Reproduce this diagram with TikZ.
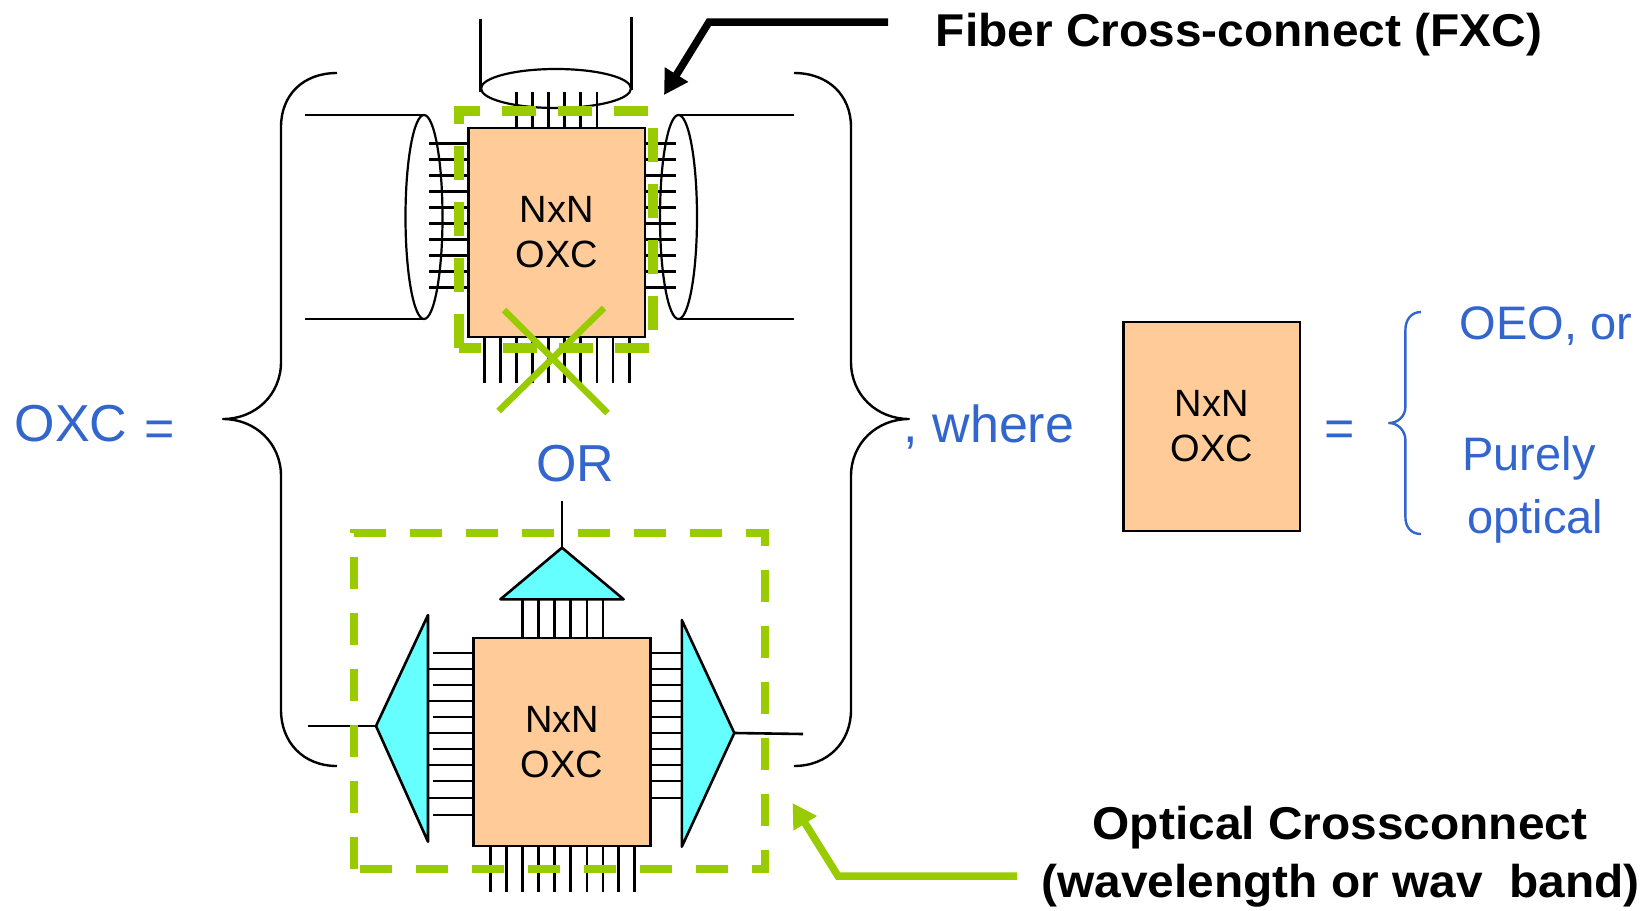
\documentclass[tikz,border=0pt]{standalone}
\usepackage{fontspec}
\setmainfont{Liberation Sans}
\newfontfamily\calloutfont[FakeStretch=1.04]{Liberation Sans}
\usetikzlibrary{shapes,arrows.meta}
\usetikzlibrary{positioning}
\definecolor{oxcfill}{HTML}{FFCC99}
\definecolor{muxfill}{HTML}{66FFFF}
\definecolor{markgreen}{HTML}{99CC00}
\definecolor{textblue}{HTML}{3366CC}
\tikzset{
    oxcbox/.style={rectangle,draw,line width=2.6,fill=oxcfill,align=center,inner sep=0,outer sep=0,
        font=\fontsize{38}{45}\selectfont},
    fiberend/.style={ellipse,draw,line width=2.2,inner sep=0,outer sep=0},
    wire/.style={line width=2.6},
    muxshape/.style={line width=2.6,fill=muxfill,line join=round},
    bracket/.style={line width=2.4,line join=round},
    bluetext/.style={text=textblue,anchor=base,inner sep=0,font=\fontsize{52}{60}\selectfont},
    smalltext/.style={bluetext,font=\fontsize{47}{55}\selectfont},
    boldtext/.style={anchor=base,inner sep=0,font=\calloutfont\bfseries\fontsize{46}{54}\selectfont},
    callout/.style={line width=7.5,-{Triangle[length=24,width=26]}},
}
\begin{document}
\begin{tikzpicture}[x=1pt,y=-1pt]
    \useasboundingbox (0,0) rectangle (1643,910);

    % upper switch with its fibers
    \draw[wire] (480.7,19) -- (480.7,92);
    \draw[wire] (631.4,17) -- (631.4,90);
    \node at (556,88.5) [fiberend,minimum width=150,minimum height=39] (fiberTop) {};
    \node at (424,217) [fiberend,minimum width=37,minimum height=204] (fiberLeft) {};
    \node at (678.5,217) [fiberend,minimum width=37,minimum height=204] (fiberRight) {};
    \node at (556.8,232.5) [oxcbox,minimum width=176.4,minimum height=209] (oxcTop) {NxN\\OXC};

    \coordinate (leftFreeA) at (305,115);
    \coordinate (leftFreeB) at (305,319);
    \coordinate (rightFreeA) at (794,115);
    \coordinate (rightFreeB) at (794,319);
    \draw[wire] (leftFreeA) -- (fiberLeft.north);
    \draw[wire] (leftFreeB) -- (fiberLeft.south);
    \draw[wire] (rightFreeA) -- (fiberRight.north);
    \draw[wire] (rightFreeB) -- (fiberRight.south);

    \foreach \y in {143.3,159.3,175.3,191.3,207.3,223.3,239.3,255.3,271.3,287.3} {
        \draw[wire] (429,\y) -- (oxcTop.west |- 429,\y);
        \draw[wire] (oxcTop.east |- 676,\y) -- (676,\y);
    }
    \foreach \x in {516.4,532.5,548.6,564.6,580.7,596.8}
        \draw[wire] (\x,92) -- (oxcTop.north -| \x,92);
    \foreach \x in {484.3,500.4,516.4,532.5,548.6,564.6,580.7,596.8,612.9,629.3}
        \draw[wire] (oxcTop.south -| \x,383) -- (\x,383);

    \draw[markgreen,line width=10.5,dash pattern=on 34 off 22] (459,348) -- (459,111) -- (653,111) -- (653,348) -- cycle;
    \draw[markgreen,line width=6.5] (504,310) -- (607.5,413);
    \draw[markgreen,line width=6.5] (604,308) -- (498.6,411);

    % lower switch
    \node at (562,742) [oxcbox,minimum width=176.8,minimum height=208] (oxcLow) {NxN\\OXC};

    \coordinate (muxLeftTip) at (376,726);
    \coordinate (muxRightTip) at (734.3,733);
    \coordinate (muxTopTip) at (562,547.7);
    \coordinate (lowLeftFree) at (307.5,726);
    \coordinate (lowRightFree) at (803,734);
    \coordinate (lowTopFree) at (562,501);
    \draw[muxshape] (muxLeftTip) -- (428,615) -- (428,841.7) -- cycle;
    \draw[muxshape] (muxRightTip) -- (681.8,620) -- (681.8,846.7) -- cycle;
    \draw[muxshape] (muxTopTip) -- (500.4,599.3) -- (623.6,599.3) -- cycle;
    \draw[wire] (lowLeftFree) -- (muxLeftTip);
    \draw[wire] (muxRightTip) -- (lowRightFree);
    \draw[wire] (lowTopFree) -- (muxTopTip);

    \foreach \y in {669,701,733,765,798}
        \draw[wire] (429,\y) -- (oxcLow.west |- 429,\y);
    \foreach \y in {653,685,717,749,781,815}
        \draw[wire] (433,\y) -- (oxcLow.west |- 433,\y);
    \foreach \y in {653,669,685,701,717,733,749,765,781,798}
        \draw[wire] (oxcLow.east |- 681.8,\y) -- (681.8,\y);
    \foreach \x in {522.5,538.5,554.6,570.7,586.8,602.9}
        \draw[wire] (\x,599.3) -- (oxcLow.north -| \x,599.3);
    \foreach \x in {490.4,506.4,522.5,538.5,554.6,570.7,586.8,602.9,618.6,634.6}
        \draw[wire] (oxcLow.south -| \x,892) -- (\x,892);

    \draw[markgreen,line width=7.5,dash pattern=on 32 off 24] (354,869) -- (354,533) -- (765,533) -- (765,869) -- cycle;

    % big braces
    \draw[bracket] (337,73) .. controls (303,73) and (281,95) .. (281,127) -- (281,362)
        .. controls (281,395) and (255,419) .. (223,419)
        .. controls (255,419) and (281,443) .. (281,476) -- (281,710)
        .. controls (281,742) and (303,766) .. (337,766);
    \draw[bracket] (794,73) .. controls (828,73) and (851,95) .. (851,127) -- (851,362)
        .. controls (851,395) and (877,419) .. (909,419)
        .. controls (877,419) and (851,443) .. (851,476) -- (851,710)
        .. controls (851,742) and (828,766) .. (794,766);

    % key on the right
    \node at (1211.8,426.5) [oxcbox,minimum width=176.5,minimum height=209] (oxcKey) {NxN\\OXC};
    \draw[bracket,textblue] (1421,312) .. controls (1411,312) and (1405.4,320) .. (1405.4,330) -- (1405.4,407)
        .. controls (1405.4,416) and (1398,423) .. (1389,423)
        .. controls (1398,423) and (1405.4,431) .. (1405.4,440) -- (1405.4,517)
        .. controls (1405.4,527) and (1411,534) .. (1421,534);

    \node at (95,441) [bluetext] (oxcEquals) {OXC\kern 3pt\ \raisebox{-5pt}{=}};
    \node at (989,442) [bluetext] (whereText) {, where};
    \node at (575.5,481) [bluetext] (orText) {OR};
    \node at (1340,446) [bluetext] (keyEquals) {=};
    \node at (1546,339) [smalltext] (oeoText) {OEO, or};
    \node at (1529,470) [smalltext] (purelyText) {Purely};
    \node at (1535.5,533) [smalltext] (opticalText) {optical};

    % callouts
    \node at (1239,46) [boldtext] (fxcLabel) {Fiber Cross-connect (FXC)};
    \node at (1340,839) [boldtext] (wxcLabelA) {Optical Crossconnect};
    \node at (1340.5,897) [boldtext] (wxcLabelB) {(wavelength or wav\ \ band)};

    \coordinate (fxcStart) at (888,22);
    \coordinate (fxcBend) at (709,22);
    \coordinate (fxcTip) at (664,95);
    \draw[callout,line join=miter] (fxcStart) -- (fxcBend) -- (fxcTip);
    \coordinate (wxcStart) at (1017,876);
    \coordinate (wxcBend) at (838,876);
    \coordinate (wxcTip) at (792.5,803);
    \draw[callout,markgreen] (wxcStart) -- (wxcBend) -- (wxcTip);
\end{tikzpicture}
\end{document}
